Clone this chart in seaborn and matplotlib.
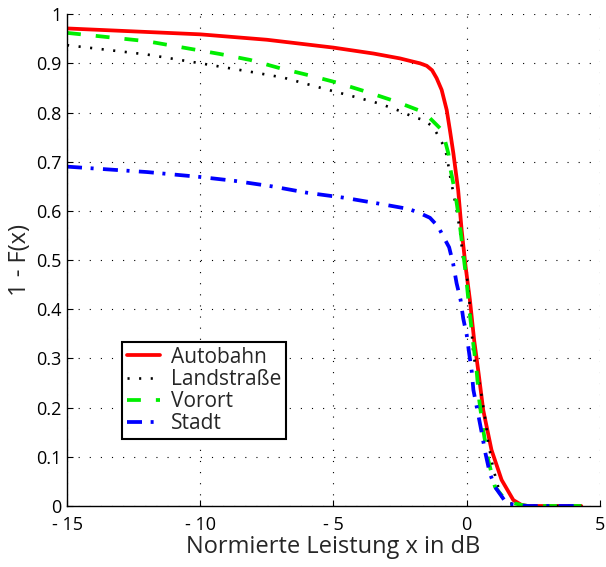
import numpy as np
import pandas as pd
import matplotlib
matplotlib.use("Agg")
import matplotlib.pyplot as plt
import seaborn as sns

# values (x in dB, 1 - F(x))
autobahn_x = [-15, -10, -7.5, -5.0, -3.5, -2.5, -2.13, -1.75, -1.5, -1.3, -1.13, -0.94, -0.75, -0.63, -0.5,
              -0.32, -0.19, -0.04, 0.12, 0.28, 0.45, 0.62, 0.93, 1.31, 1.75, 2.06, 2.3, 4.3]
autobahn_y = [0.971, 0.959, 0.948, 0.932, 0.920, 0.910, 0.905, 0.900, 0.895, 0.886, 0.870, 0.846, 0.805, 0.764, 0.717,
              0.642, 0.561, 0.486, 0.419, 0.337, 0.268, 0.195, 0.114, 0.053, 0.012, 0.002, 0.0, 0.0]

land_x = [-15, -12, -9.76, -8.13, -6.88, -5.26, -4.0, -3.26, -2.5, -2.0, -1.63, -1.26, -0.88, -0.75, -0.63,
          -0.38, -0.25, -0.13, -0.07, 0.06, 0.16, 0.25, 0.52, 0.72, 0.81, 1.0, 1.18, 1.31, 1.6, 2.0, 2.3, 4.3]
land_y = [0.937, 0.918, 0.898, 0.883, 0.871, 0.847, 0.829, 0.818, 0.803, 0.791, 0.785, 0.771, 0.734, 0.713, 0.673,
          0.602, 0.558, 0.500, 0.490, 0.446, 0.375, 0.307, 0.237, 0.168, 0.127, 0.075, 0.039, 0.019, 0.006, 0.001, 0.0, 0.0]

vorort_x = [-15, -12, -9.26, -8.13, -7.0, -5.94, -4.88, -3.75, -2.69, -1.82, -1.5, -1.0, -0.82, -0.69, -0.63,
            -0.44, -0.28, -0.13, -0.01, 0.10, 0.23, 0.37, 0.47, 0.62, 0.81, 1.06, 1.5, 2.06, 2.3, 4.3]
vorort_y = [0.962, 0.945, 0.919, 0.907, 0.890, 0.876, 0.861, 0.842, 0.823, 0.805, 0.795, 0.768, 0.744, 0.717, 0.690,
            0.639, 0.581, 0.514, 0.459, 0.398, 0.337, 0.276, 0.215, 0.154, 0.093, 0.039, 0.009, 0.002, 0.0, 0.0]

stadt_x = [-15, -12, -10, -8.7, -7.32, -6.0, -4.63, -3.32, -2.19, -1.82, -1.38, -1.07, -0.88, -0.66, -0.51,
           -0.38, -0.23, -0.13, 0.0, 0.10, 0.19, 0.25, 0.40, 0.56, 0.70, 0.87, 1.06, 1.5, 2.0, 2.3, 4.3]
stadt_y = [0.690, 0.679, 0.669, 0.661, 0.650, 0.637, 0.627, 0.615, 0.604, 0.597, 0.586, 0.568, 0.548, 0.526, 0.493,
           0.453, 0.419, 0.381, 0.348, 0.307, 0.273, 0.236, 0.195, 0.150, 0.108, 0.066, 0.039, 0.005, 0.001, 0.0, 0.0]

series = [
    ("Autobahn", autobahn_x, autobahn_y, "#ff0000", "-", 2.7),
    ("Landstraße", land_x, land_y, "black", (0, (0.8, 3.6)), 1.9),
    ("Vorort", vorort_x, vorort_y, "#00ee00", (0, (3.7, 4.0)), 2.7),
    ("Stadt", stadt_x, stadt_y, "#0000ff", (0, (4.0, 2.3, 0.8, 2.5)), 2.7),
]

sns.set_style("white")
plt.rcParams["font.family"] = ["Open Sans", "DejaVu Sans"]

fig = plt.figure(figsize=(6.06, 5.67), dpi=100)
ax = fig.add_axes([0.1106, 0.1076, 0.8794, 0.8674])

for name, xs, ys, col, ls, lw in series:
    df = pd.DataFrame({"x": xs, "y": ys})
    sns.lineplot(data=df, x="x", y="y", ax=ax, color=col, linestyle=ls,
                 linewidth=lw, label=name)

ax.set_xlim(-15, 5)
ax.set_ylim(0, 1)
ax.set_xticks([-15, -10, -5, 0, 5])
ax.set_yticks(np.arange(0, 1.01, 0.1))
ax.set_xticklabels(["- 15", "- 10", "- 5", "0", "5"])
ax.set_yticklabels(["0"] + [f"{v:.1f}" for v in np.arange(0.1, 0.95, 0.1)] + ["1"])
ax.tick_params(direction="in", length=4, labelsize=13, colors="black", left=True, bottom=True)
ax.tick_params(axis="x", pad=7)
ax.tick_params(axis="y", pad=4)
ax.grid(True, color="black", linestyle=(0, (1, 9)), linewidth=0.8)
for s in ["top", "right"]:
    ax.spines[s].set_visible(False)
for s in ["left", "bottom"]:
    ax.spines[s].set_color("black")
    ax.spines[s].set_linewidth(1.0)

ax.set_xlabel("Normierte Leistung x in dB", fontsize=17, labelpad=1)
ax.set_ylabel("1 - F(x)", fontsize=17, labelpad=3)

leg = ax.legend(loc="lower left", bbox_to_anchor=(0.103, 0.136), fontsize=15,
                frameon=True, fancybox=False, edgecolor="black", handlelength=1.6,
                borderpad=0.25, labelspacing=0.05, handletextpad=0.5, borderaxespad=0)
leg.get_frame().set_linewidth(1.5)
leg.get_frame().set_alpha(1)

fig.savefig("out.png", dpi=100)
